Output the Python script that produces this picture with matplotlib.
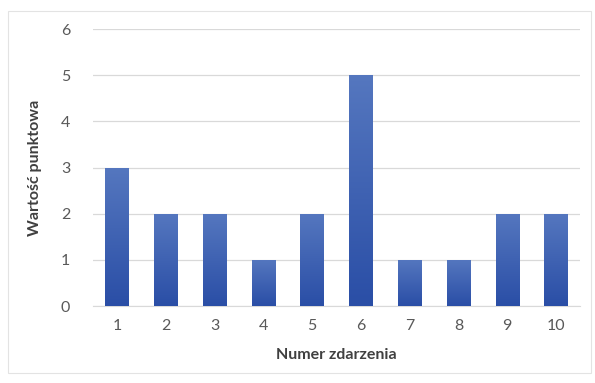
import matplotlib
matplotlib.use("Agg")
import matplotlib.pyplot as plt
from matplotlib.patches import Rectangle
from matplotlib.colors import LinearSegmentedColormap
import numpy as np

plt.rcParams['font.family'] = ['Lato', 'DejaVu Sans']

events = [1, 2, 3, 4, 5, 6, 7, 8, 9, 10]
scores = [3, 2, 2, 1, 2, 5, 1, 1, 2, 2]
y_ticks = [0, 1, 2, 3, 4, 5, 6]

fig = plt.figure(figsize=(5.95, 3.83), dpi=100)
ax = fig.add_axes([0.1556, 0.201, 0.82, 0.723])

# outer chart border
fig.patches.append(Rectangle((8 / 595, 10 / 383), 583 / 595, 362 / 383,
                             transform=fig.transFigure, fill=False,
                             edgecolor='#e3e3e3', linewidth=0.8))

grad = LinearSegmentedColormap.from_list('bar', ['#2a4ea6', '#5577bf'])
bars = ax.bar(events, scores, width=0.48, color='none', edgecolor='none', zorder=3)
for b in bars:
    x0, y0 = b.get_x(), b.get_y()
    w, h = b.get_width(), b.get_height()
    im = ax.imshow(np.linspace(0, 1, 256).reshape(-1, 1), cmap=grad,
                   origin='lower', aspect='auto',
                   extent=(x0, x0 + w, y0, y0 + h), zorder=3)
    im.set_clip_path(b)

ax.set_xlim(0.5, 10.5)
ax.set_ylim(0, 6)
ax.set_xticks(events)
ax.set_yticks(y_ticks)
ax.grid(axis='y', color='#d9d9d9', linewidth=0.9, zorder=0)
ax.set_axisbelow(True)
for s in ['top', 'right', 'left']:
    ax.spines[s].set_visible(False)
ax.spines['bottom'].set_color('#d9d9d9')
ax.tick_params(axis='both', length=0, labelsize=11.5, labelcolor='#595959')
ax.tick_params(axis='x', pad=9)
ax.tick_params(axis='y', pad=16)

ax.set_xlabel('Numer zdarzenia', fontsize=11.5, fontweight='bold',
              color='#404040', labelpad=11)
ax.set_ylabel('Wartość punktowa', fontsize=11.5, fontweight='bold',
              color='#404040', labelpad=14)

fig.savefig('out.png', dpi=100)
